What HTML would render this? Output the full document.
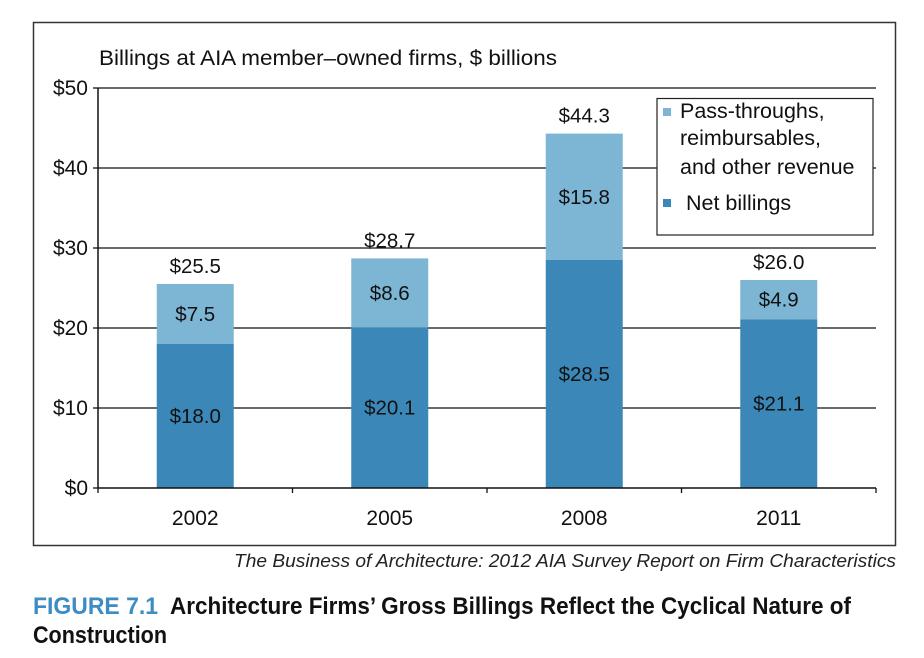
<!DOCTYPE html>
<html><head><meta charset="utf-8"><style>
body{margin:0;background:#fff;width:924px;height:658px;overflow:hidden;font-family:"Liberation Sans",sans-serif}
svg{position:absolute;left:0;top:0}
</style></head><body>
<svg id="c" width="924" height="658"></svg>
<script>
const categories=["2002","2005","2008","2011"];
const netBillings=[18.0,20.1,28.5,21.1];
const passThroughs=[7.5,8.6,15.8,4.9];
const totals=[25.5,28.7,44.3,26.0];
const yTicks=[0,10,20,30,40,50];
const NS="http://www.w3.org/2000/svg";
const svg=document.getElementById('c');
const X0=98,X1=876,Y0=488,Y50=88;
const band=(X1-X0)/categories.length;
function y(v){return Y0-(v/50)*(Y0-Y50);}
function xc(i){return X0+band*(i+0.5);}
function el(t,a,txt){const e=document.createElementNS(NS,t);for(const k in a)e.setAttribute(k,a[k]);if(txt!=null)e.textContent=txt;svg.appendChild(e);return e;}
let e;
e=el('rect',{x:33.5,y:22.5,width:862,height:523,fill:'none',stroke:'#333','stroke-width':1.5});


e=el('text',{x:99,y:65,'font-size':21,fill:'#111',textLength:458,lengthAdjust:'spacingAndGlyphs'},'Billings at AIA member–owned firms, $ billions');


yTicks.forEach(v=>{
 if(v>0){e=el('line',{x1:X0,x2:X1,y1:y(v),y2:y(v),stroke:'#111','stroke-width':1.3});
 
 }
 e=el('line',{x1:X0-5,x2:X0,y1:y(v),y2:y(v),stroke:'#111','stroke-width':1.3});
 
 
 e=el('text',{x:88,y:y(v)+7,'font-size':21,'text-anchor':'end',fill:'#111'},'$'+v);
 
 
});
categories.forEach((c,i)=>{
 const cx=xc(i),w=77;
 e=el('rect',{x:cx-w/2,y:y(netBillings[i]),width:w,height:Y0-y(netBillings[i]),fill:'#3b88b8'});
 
 
 const top=netBillings[i]+passThroughs[i];
 e=el('rect',{x:cx-w/2,y:y(top),width:w,height:y(netBillings[i])-y(top),fill:'#7db5d4'});
 
 
 e=el('text',{x:cx,y:y(netBillings[i]/2)+7,'font-size':20.5,'text-anchor':'middle',fill:'#111'},'$'+netBillings[i].toFixed(1));
 
 
 e=el('text',{x:cx,y:y(netBillings[i]+passThroughs[i]/2)+7,'font-size':20.5,'text-anchor':'middle',fill:'#111'},'$'+passThroughs[i].toFixed(1));
 
 
 e=el('text',{x:cx,y:y(totals[i])-11,'font-size':20.5,'text-anchor':'middle',fill:'#111'},'$'+totals[i].toFixed(1));
 
 
 e=el('text',{x:cx,y:525,'font-size':21,'text-anchor':'middle',fill:'#111'},c);
 
 
});
for(let i=0;i<=categories.length;i++){
 e=el('line',{x1:X0+band*i,x2:X0+band*i,y1:Y0,y2:Y0+5,stroke:'#111','stroke-width':1.3});
 
 
}
e=el('line',{x1:X0,x2:X1,y1:Y0,y2:Y0,stroke:'#111','stroke-width':1.5});


e=el('line',{x1:X0,x2:X0,y1:Y50,y2:Y0,stroke:'#111','stroke-width':1.5});


e=el('rect',{x:657,y:98.5,width:216,height:136.5,fill:'#fff',stroke:'#222','stroke-width':1.2});


e=el('rect',{x:663,y:108,width:8,height:8,fill:'#7db5d4'});


[['Pass-throughs,',118],['reimbursables,',145],['and other revenue',174]].forEach(t=>{
 e=el('text',{x:680,y:t[1],'font-size':21.5,fill:'#111'},t[0]);
 
 
});
e=el('rect',{x:663,y:199,width:8,height:8,fill:'#3b88b8'});


e=el('text',{x:686,y:210,'font-size':21.5,fill:'#111'},'Net billings');


e=el('text',{x:896,y:567,'font-size':18.5,'font-style':'italic','text-anchor':'end',fill:'#222',textLength:662,lengthAdjust:'spacingAndGlyphs'},'The Business of Architecture: 2012 AIA Survey Report on Firm Characteristics');


e=el('text',{x:33,y:614,'font-size':24,'font-weight':'bold',fill:'#3d8cc4',textLength:125,lengthAdjust:'spacingAndGlyphs'},'FIGURE 7.1');


e=el('text',{x:170,y:614,'font-size':24,'font-weight':'bold',fill:'#111',textLength:681,lengthAdjust:'spacingAndGlyphs'},'Architecture Firms’ Gross Billings Reflect the Cyclical Nature of');


e=el('text',{x:33,y:643,'font-size':24,'font-weight':'bold',fill:'#111',textLength:134,lengthAdjust:'spacingAndGlyphs'},'Construction');


</script>
</body></html>
